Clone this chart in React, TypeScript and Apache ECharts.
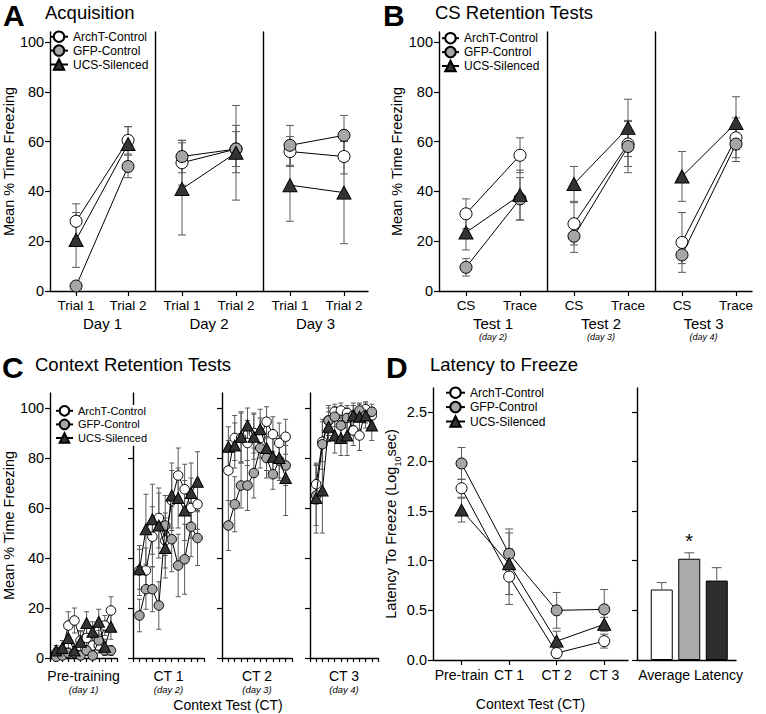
import React, { useEffect, useRef } from 'react';
import * as echarts from 'echarts';

const GROUPS = ['ArchT-Control', 'GFP-Control', 'UCS-Silenced'];

// ---- Panel A: Acquisition (Day 1..3 x Trial 1, Trial 2)
const acqTrialLabels = ['Trial 1', 'Trial 2'];
const acqDayLabels = ['Day 1', 'Day 2', 'Day 3'];
const acqArchT = [28, 60.5, 51.5, 57, 56, 54];
const acqArchTSem = [7, 5.5, 9, 9.5, 6, 7];
const acqGFP = [2, 50, 54, 57, 58.5, 62.5];
const acqGFPSem = [0.5, 4.5, 6.5, 7, 8, 8];
const acqUCS = [20.5, 59, 41, 55.5, 42.5, 39.5];
const acqUCSSem = [11, 7, 18.5, 19, 14.5, 20.5];

// ---- Panel B: CS Retention Tests (Test 1..3 x CS, Trace)
const csTrialLabels = ['CS', 'Trace'];
const csTestLabels = ['Test 1', 'Test 2', 'Test 3'];
const csTestDays = ['(day 2)', '(day 3)', '(day 4)'];
const csArchT = [31, 54.5, 27, 59, 19.5, 61.5];
const csArchTSem = [6, 7, 8.5, 9, 12, 8];
const csGFP = [9.5, 37, 22, 58, 14.5, 59];
const csGFPSem = [3.5, 8.5, 6.5, 10.5, 3.5, 7];
const csUCS = [23.5, 38.5, 43, 65.5, 46, 67.5];
const csUCSSem = [7, 10, 7, 11.5, 10, 10.5];

// ---- Panel C: Context Retention Tests (10 bins per phase)
const ctPhaseLabels = ['Pre-training', 'CT 1', 'CT 2', 'CT 3'];
const ctPhaseDays = ['(day 1)', '(day 2)', '(day 3)', '(day 4)'];
const ctPreArchT = [2, 3, 13, 15, 7, 8, 5, 5, 13, 19];
const ctPreArchTSem = [2, 2, 5.5, 5, 4, 4, 3, 3, 4, 5.5];
const ctPreGFP = [0.5, 1, 2, 2, 1, 3, 1, 7, 3, 3];
const ctPreGFPSem = [0.5, 1, 1.5, 1.5, 1, 2, 1, 4, 2, 2];
const ctPreUCS = [3, 4, 8, 3, 6.5, 14, 10.5, 14.5, 4.5, 12.5];
const ctPreUCSSem = [2, 3, 4, 2.5, 4, 4.5, 4, 5, 3, 5];
const ct1ArchT = [35, 35, 48.5, 56, 47, 63, 73, 67.5, 60, 61.5];
const ct1ArchTSem = [10, 9, 12, 12, 11, 12, 11, 10, 12, 10];
const ct1GFP = [17, 27.5, 27.5, 21, 53, 47.5, 37, 39.5, 52.5, 48];
const ct1GFPSem = [6.5, 8, 9, 9.5, 12, 13, 12.5, 14, 12, 11];
const ct1UCS = [35.5, 51.5, 55.5, 53, 44, 65, 64, 59, 66, 70.5];
const ct1UCSSem = [8, 14, 14, 13, 12, 13, 12, 12, 12, 12];
const ct2ArchT = [75, 88, 88, 86, 90, 88, 94.5, 89.5, 86, 88.5];
const ct2ArchTSem = [12, 9, 10, 9, 8, 8, 6, 7, 8, 7];
const ct2GFP = [53, 61.5, 69, 69, 74, 84, 80, 73.5, 79, 77];
const ct2GFPSem = [10, 11, 9, 10, 10, 8, 8, 6, 7, 8];
const ct2UCS = [84.5, 85, 88.5, 93, 88.5, 91.5, 84, 80.5, 80, 72];
const ct2UCSSem = [8, 9, 10, 7, 9, 8, 9, 8, 9, 15];
const ct3ArchT = [69.5, 86.5, 95, 98.5, 99, 98, 91, 89, 99.5, 97];
const ct3ArchTSem = [8, 8, 6, 3, 3, 3, 6, 6, 3, 3];
const ct3GFP = [65, 85.5, 95, 96.5, 93, 96, 97, 99, 97, 98.5];
const ct3GFPSem = [12, 10, 5, 4, 6, 4, 4, 3, 3, 3];
const ct3UCS = [64, 67, 92.5, 89, 88, 89, 97, 96.5, 97, 93];
const ct3UCSSem = [14, 17, 6, 7, 7, 8, 5, 5, 5, 6];

// ---- Panel D: Latency to Freeze
const latLabels = ['Pre-train', 'CT 1', 'CT 2', 'CT 3'];
const latArchT = [1.73, 0.84, 0.07, 0.19];
const latArchTSem = [0.09, 0.28, 0.05, 0.07];
const latGFP = [1.98, 1.07, 0.5, 0.51];
const latGFPSem = [0.16, 0.25, 0.18, 0.2];
const latUCS = [1.51, 0.97, 0.19, 0.36];
const latUCSSem = [0.12, 0.31, 0.1, 0.07];
const avgLabel = 'Average Latency';
const avgMeans = [0.71, 1.02, 0.8];
const avgSems = [0.07, 0.06, 0.13];
const avgMarks = ['', '*', ''];

const pctTicks = [0, 20, 40, 60, 80, 100];
const latTicks = [0, 0.5, 1, 1.5, 2, 2.5];

const FONT = '"Liberation Sans", Arial, Helvetica, sans-serif';
const ERR_COLOR = '#5a5a5a';
const FILLS = ['#ffffff', '#a6a6a6', '#333333'];
const BAR_FILLS = ['#ffffff', '#aaaaaa', '#2e2e2e'];
const SYMBOLS = ['circle', 'circle', 'triangle'];

function errRender(capHalf: number, upperOnly: boolean) {
  return (_params: any, api: any) => {
    const x = api.value(0);
    const m = api.value(1);
    const e = api.value(2);
    const t = api.coord([x, m + e]);
    const b = api.coord([x, upperOnly ? m : m - e]);
    const st = { stroke: ERR_COLOR, lineWidth: 1 };
    const children: any[] = [
      { type: 'line', shape: { x1: t[0], y1: t[1], x2: b[0], y2: b[1] }, style: st },
      { type: 'line', shape: { x1: t[0] - capHalf, y1: t[1], x2: t[0] + capHalf, y2: t[1] }, style: st },
    ];
    if (!upperOnly) {
      children.push({ type: 'line', shape: { x1: b[0] - capHalf, y1: b[1], x2: b[0] + capHalf, y2: b[1] }, style: st });
    }
    return { type: 'group', children };
  };
}

function buildOption() {
  const grid: any[] = [];
  const xAxis: any[] = [];
  const yAxis: any[] = [];
  const series: any[] = [];
  const axisLine = { show: true, onZero: false, lineStyle: { color: '#000', width: 1.4 } };
  const tickLine = { color: '#000', width: 1.2 };

  const addGrid = (left: number, top: number, width: number, height: number) => {
    grid.push({ left, top, width, height, containLabel: false });
    return grid.length - 1;
  };

  const addGroupSeries = (
    gi: number, xs: number[], means: number[][], sems: number[][], sizes: any[], capHalf: number,
  ) => {
    means.forEach((m, k) => {
      series.push({
        type: 'custom', name: GROUPS[k] + ' SEM', xAxisIndex: gi, yAxisIndex: gi, z: 1, silent: true,
        data: m.map((v, i) => [xs[i], v, sems[k][i]]),
        encode: { x: 0, y: 1 },
        renderItem: errRender(capHalf, false),
      });
    });
    means.forEach((m, k) => {
      series.push({
        type: 'line', name: GROUPS[k], xAxisIndex: gi, yAxisIndex: gi, z: 2 + k, silent: true,
        data: m.map((v, i) => [xs[i], v]),
        symbol: SYMBOLS[k], symbolSize: sizes[k], showAllSymbol: true,
        itemStyle: { color: FILLS[k], borderColor: '#000', borderWidth: 1 },
        lineStyle: { color: '#000', width: 1 },
        emphasis: { disabled: true },
      });
    });
  };

  const pctY = (gi: number, max: number, first: boolean, ticks: boolean) => ({
    type: 'value', gridIndex: gi, min: 0, max,
    axisLine,
    axisTick: { show: ticks, customValues: pctTicks, length: 5, lineStyle: tickLine },
    axisLabel: { show: first, customValues: pctTicks, fontSize: 14.5, margin: 6, color: '#000' },
    splitLine: { show: false },
    name: first ? 'Mean % Time Freezing' : '',
    nameLocation: 'middle', nameGap: 27,
    nameTextStyle: { fontSize: 14.5, color: '#000' },
  });

  // ---------- Panel A & B (three sub-panels each)
  const unitAB = 54;
  const abPanels = [
    {
      lefts: [46, 155, 263], widths: [109, 108, 105], trial: acqTrialLabels,
      names: acqDayLabels.map((d) => `{a|${d}}`),
      means: [acqArchT, acqGFP, acqUCS], sems: [acqArchTSem, acqGFPSem, acqUCSSem],
    },
    {
      lefts: [439, 547, 655], widths: [108, 108, 97], trial: csTrialLabels,
      names: csTestLabels.map((d, i) => `{a|${d}}\n{b|${csTestDays[i]}}`),
      means: [csArchT, csGFP, csUCS], sems: [csArchTSem, csGFPSem, csUCSSem],
    },
  ];
  abPanels.forEach((p) => {
    p.lefts.forEach((left, d) => {
      const gi = addGrid(left, 32, p.widths[d], 259);
      const xs = p.trial.map((_, i) => i + 0.5);
      xAxis.push({
        type: 'value', gridIndex: gi, min: 0, max: p.widths[d] / unitAB,
        axisLine,
        axisTick: { customValues: xs, length: 5, lineStyle: tickLine },
        axisLabel: {
          customValues: xs, fontSize: 13.5, margin: 7, color: '#000',
          formatter: (v: number) => p.trial[Math.round(v - 0.5)],
        },
        splitLine: { show: false },
        name: p.names[d], nameLocation: 'middle', nameGap: 24,
        nameTextStyle: {
          color: '#000',
          rich: {
            a: { fontSize: 15, lineHeight: 16, color: '#000' },
            b: { fontSize: 9, fontStyle: 'italic', lineHeight: 12, color: '#000' },
          },
        },
      });
      yAxis.push(pctY(gi, 104, d === 0, d === 0));
      addGroupSeries(
        gi, xs,
        p.means.map((m) => m.slice(2 * d, 2 * d + 2)),
        p.sems.map((m) => m.slice(2 * d, 2 * d + 2)),
        [12, 12, [14, 13]], 4,
      );
    });
  });

  // ---------- Panel C (four phases)
  const cLefts = [45, 133, 222, 310];
  const cWidths = [72, 71, 70, 68];
  const cMeans = [
    [ctPreArchT, ctPreGFP, ctPreUCS],
    [ct1ArchT, ct1GFP, ct1UCS],
    [ct2ArchT, ct2GFP, ct2UCS],
    [ct3ArchT, ct3GFP, ct3UCS],
  ];
  const cSems = [
    [ctPreArchTSem, ctPreGFPSem, ctPreUCSSem],
    [ct1ArchTSem, ct1GFPSem, ct1UCSSem],
    [ct2ArchTSem, ct2GFPSem, ct2UCSSem],
    [ct3ArchTSem, ct3GFPSem, ct3UCSSem],
  ];
  cLefts.forEach((left, ph) => {
    const gi = addGrid(left, 393, cWidths[ph], 265);
    const xs = cMeans[ph][0].map((_, i) => i + 1);
    xAxis.push({
      type: 'value', gridIndex: gi, min: 0, max: xs.length + 1, interval: 1,
      axisLine,
      axisTick: { show: true, length: 4, lineStyle: tickLine },
      axisLabel: { show: false },
      splitLine: { show: false },
      name: `{a|${ctPhaseLabels[ph]}}\n{b|${ctPhaseDays[ph]}}`,
      nameLocation: 'middle', nameGap: 10,
      nameTextStyle: {
        color: '#000',
        rich: {
          a: { fontSize: 14, lineHeight: 15, color: '#000' },
          b: { fontSize: 9.5, fontStyle: 'italic', lineHeight: 12, color: '#000' },
        },
      },
    });
    yAxis.push(pctY(gi, 106, ph === 0, true));
    addGroupSeries(gi, xs, cMeans[ph], cSems[ph], [9.5, 9.5, [11.5, 11]], 2.5);
  });

  // ---------- Panel D left: latency lines
  const giD = addGrid(433, 388, 195, 272);
  const latX = latLabels.map((_, i) => i);
  xAxis.push({
    type: 'value', gridIndex: giD, min: -0.6, max: 3.5,
    axisLine,
    axisTick: { customValues: latX, length: 5, lineStyle: tickLine },
    axisLabel: {
      customValues: latX, fontSize: 14, margin: 8, color: '#000',
      formatter: (v: number) => latLabels[Math.round(v)],
    },
    splitLine: { show: false },
    name: 'Context Test (CT)', nameLocation: 'middle', nameGap: 37,
    nameTextStyle: { fontSize: 14, color: '#000' },
  });
  yAxis.push({
    type: 'value', gridIndex: giD, min: 0, max: 2.74,
    axisLine,
    axisTick: { customValues: latTicks, length: 5, lineStyle: tickLine },
    axisLabel: {
      customValues: latTicks, fontSize: 14.5, margin: 6, color: '#000',
      formatter: (v: number) => v.toFixed(1),
    },
    splitLine: { show: false },
    name: 'Latency To Freeze (Log{s|10}sec)', nameLocation: 'middle', nameGap: 28,
    nameTextStyle: {
      fontSize: 14.5, color: '#000',
      rich: { s: { fontSize: 9, verticalAlign: 'bottom', color: '#000', padding: [0, 0, -4, 0] } },
    },
  });
  addGroupSeries(
    giD, latX, [latArchT, latGFP, latUCS], [latArchTSem, latGFPSem, latUCSSem], [11, 11, [13, 12]], 4,
  );

  // ---------- Panel D right: average latency bars
  const giBar = addGrid(637, 388, 99, 272);
  const barX = avgMeans.map((_, i) => i + 0.9);
  xAxis.push({
    type: 'value', gridIndex: giBar, min: 0, max: 3.6,
    axisLine,
    axisTick: { show: false },
    axisLabel: {
      customValues: [1.95], fontSize: 14, margin: 8, color: '#000',
      formatter: () => avgLabel,
    },
    splitLine: { show: false },
  });
  yAxis.push({
    type: 'value', gridIndex: giBar, min: 0, max: 2.74,
    axisLine,
    axisTick: { customValues: latTicks, length: 5, lineStyle: tickLine },
    axisLabel: { show: false },
    splitLine: { show: false },
  });
  series.push({
    type: 'bar', name: 'Average Latency', xAxisIndex: giBar, yAxisIndex: giBar, barWidth: 22, z: 2, silent: true,
    data: avgMeans.map((v, i) => ({
      value: [barX[i], v],
      itemStyle: { color: BAR_FILLS[i], borderColor: '#000', borderWidth: 1 },
      label: {
        show: avgMarks[i] !== '', position: 'top', distance: 8, formatter: avgMarks[i],
        fontSize: 20, color: '#000',
      },
    })),
  });
  series.push({
    type: 'custom', name: 'Average Latency SEM', xAxisIndex: giBar, yAxisIndex: giBar, z: 3, silent: true,
    data: avgMeans.map((v, i) => [barX[i], v, avgSems[i]]),
    encode: { x: 0, y: 1 },
    renderItem: errRender(5, true),
  });

  const legendBase = {
    orient: 'vertical', padding: 0, selectedMode: false, data: GROUPS,
    textStyle: { color: '#000', fontSize: 12 },
  };
  const legend = [
    { ...legendBase, left: 49, top: 30.5, itemWidth: 18, itemHeight: 13, itemGap: 1.5 },
    { ...legendBase, left: 441, top: 32, itemWidth: 17, itemHeight: 13, itemGap: 1.5 },
    {
      ...legendBase, left: 55, top: 405, itemWidth: 17, itemHeight: 12, itemGap: 2,
      padding: [0, 2, 2, 0], backgroundColor: '#ffffff', z: 10,
      textStyle: { color: '#000', fontSize: 11 },
    },
    { ...legendBase, left: 445, top: 386.5, itemWidth: 19, itemHeight: 13, itemGap: 2 },
  ];

  const title = (x: number, y: number, text: string, size: number, bold: boolean) => ({
    type: 'text', x, y, silent: true,
    style: {
      text, fontSize: size, fontWeight: bold ? 'bold' : 'normal', fontFamily: FONT,
      fill: '#000', align: 'left', verticalAlign: 'top',
    },
  });
  const graphic = [
    title(3, 0, 'A', 30, true),
    title(45, 3, 'Acquisition', 18.5, false),
    title(383, 0, 'B', 30, true),
    title(435, 3, 'CS Retention Tests', 18.5, false),
    title(2, 352, 'C', 30, true),
    title(35, 355, 'Context Retention Tests', 18.5, false),
    title(386, 352, 'D', 30, true),
    title(430, 355, 'Latency to Freeze', 18.5, false),
    {
      type: 'text', x: 228, y: 705, silent: true,
      style: {
        text: 'Context Test (CT)', fontSize: 14, fontFamily: FONT, fill: '#000',
        align: 'center', verticalAlign: 'middle',
      },
    },
  ];

  return {
    animation: false,
    backgroundColor: '#ffffff',
    textStyle: { fontFamily: FONT, color: '#000' },
    grid, xAxis, yAxis, series, legend, graphic,
  };
}

export default function App() {
  const ref = useRef<HTMLDivElement>(null);
  useEffect(() => {
    if (!ref.current) return;
    const chart = echarts.init(ref.current, null, { renderer: 'svg' });
    chart.setOption(buildOption() as any);
    return () => chart.dispose();
  }, []);
  return (
    <div
      ref={ref}
      style={{ position: 'absolute', left: 0, top: 0, width: 766, height: 714, background: '#fff' }}
    />
  );
}
